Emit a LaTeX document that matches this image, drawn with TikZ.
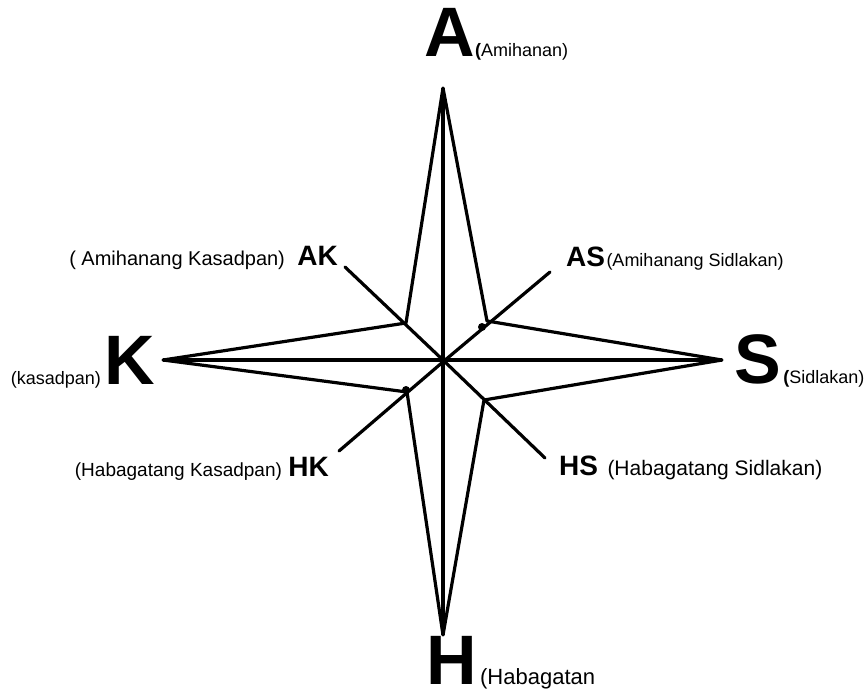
\documentclass[tikz,border=0pt]{standalone}
\usepackage{fontspec}
\setmainfont{Liberation Sans}
\usepackage{tikz}
\usetikzlibrary{positioning}
\tikzset{
  bigletter/.style={inner sep=0pt,font=\fontsize{70}{70}\selectfont\bfseries},
  midletter/.style={inner sep=0pt,font=\fontsize{28}{28}\selectfont\bfseries},
  subtxt/.style={inner sep=0pt,font=\fontsize{18}{18}\selectfont},
  starline/.style={line width=3.2pt,line join=round,color=black},
  rayline/.style={line width=3.2pt,line cap=round,color=black},
  joint/.style={circle,fill=black,inner sep=0pt,minimum size=8pt}
}

\begin{document}
\begin{tikzpicture}[x=1pt,y=-1pt]
  \useasboundingbox (0,0) rectangle (867,696);

  \coordinate (top) at (443,88);
  \coordinate (bot) at (443,635);
  \coordinate (lft) at (163,360);
  \coordinate (rgt) at (722,360);
  \coordinate (ctr) at (444,361);
  \coordinate (ul) at (406,323);
  \coordinate (ur) at (487,321);
  \coordinate (ll) at (407,392);
  \coordinate (lr) at (484,400);
  \coordinate (akend) at (345,267);
  \coordinate (asend) at (550,272);
  \coordinate (hkend) at (339,451);
  \coordinate (hsend) at (545,458);

  \draw[starline] (top) -- (ur) -- (rgt) -- (lr) -- (bot) -- (ll)
      -- (lft) -- (ul) -- cycle;
  \draw[starline] (top) -- (bot);
  \draw[starline] (lft) -- (rgt);
  \draw[rayline] (ctr) -- (akend);
  \draw[rayline] (ctr) -- (asend);
  \draw[rayline] (ctr) -- (hkend);
  \draw[rayline] (ctr) -- (hsend);
  \node[joint] (urdot) at (482,327) {};
  \node[joint] (lldot) at (406,390) {};

  \node[bigletter,anchor=base west] (bigA) at (424,56) {A};
  \node[subtxt,base right=0pt of bigA] (subA) {\textbf{(}Amihanan)};

  \node[bigletter,anchor=base east] (bigK) at (155,384) {K};
  \node[subtxt,base left=3pt of bigK] (subK) {(kasadpan)};

  \node[bigletter,anchor=base west] (bigS) at (734,383) {S};
  \node[subtxt,base right=2pt of bigS] (subS) {\textbf{(}Sidlakan)};

  \node[bigletter,anchor=base west] (bigH) at (426,684) {H};
  \node[subtxt,font=\fontsize{22}{22}\selectfont,base right=3pt of bigH]
      (subH) {(Habagatan};

  \node[midletter,anchor=base east] (AK) at (338,265) {AK};
  \node[subtxt,font=\fontsize{20}{20}\selectfont,base left=12pt of AK]
      (subAK) {( Amihanang Kasadpan)};

  \node[midletter,anchor=base west] (AS) at (566,266) {AS};
  \node[subtxt,base right=1pt of AS] (subAS) {(Amihanang Sidlakan)};

  \node[midletter,anchor=base east] (HK) at (329,476) {HK};
  \node[subtxt,font=\fontsize{19}{19}\selectfont,base left=6pt of HK]
      (subHK) {(Habagatang Kasadpan)};

  \node[midletter,anchor=base west] (HS) at (559,475) {HS};
  \node[subtxt,font=\fontsize{21}{21}\selectfont,base right=9pt of HS]
      (subHS) {(Habagatang Sidlakan)};

\end{tikzpicture}
\end{document}
